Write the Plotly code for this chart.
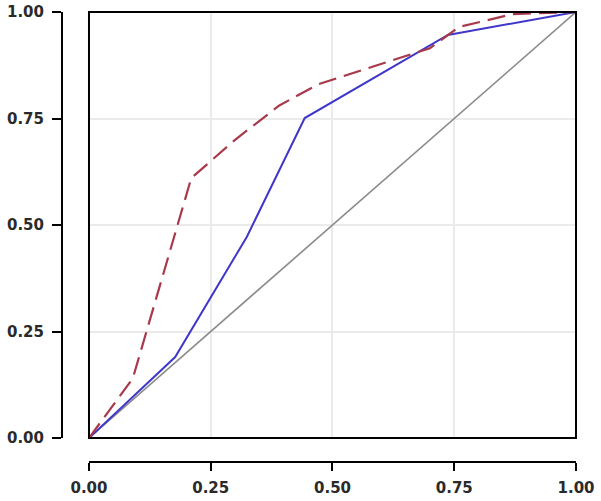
import plotly.graph_objects as go

# ---- data ----
fpr_a = [0.0, 0.09, 0.21, 0.30, 0.39, 0.47, 0.70, 0.76, 0.87, 1.0]
tpr_a = [0.0, 0.14, 0.61, 0.70, 0.78, 0.83, 0.915, 0.965, 0.995, 1.0]

fpr_b = [0.0, 0.177, 0.324, 0.443, 0.737, 1.0]
tpr_b = [0.0, 0.19, 0.472, 0.751, 0.946, 1.0]

chance = [0.0, 1.0]
tick_vals = [0.0, 0.25, 0.5, 0.75, 1.0]
tick_text = ["0.00", "0.25", "0.50", "0.75", "1.00"]

RED = "#a8394b"
BLUE = "#3f37c9"
GREY = "#8a8a8a"

fig = go.Figure()
fig.add_trace(go.Scatter(x=chance, y=chance, mode="lines",
                         line=dict(color=GREY, width=1.6), showlegend=False))
fig.add_trace(go.Scatter(x=fpr_b, y=tpr_b, mode="lines",
                         line=dict(color=BLUE, width=2), showlegend=False))
fig.add_trace(go.Scatter(x=fpr_a, y=tpr_a, mode="lines",
                         line=dict(color=RED, width=2.2, dash="18px,8px"),
                         showlegend=False))

# frame around the plotting area
fig.add_shape(type="rect", xref="x domain", yref="y domain",
              x0=0, x1=1, y0=0, y1=1, line=dict(color="black", width=2))

axis_common = dict(
    range=[0, 1],
    tickvals=tick_vals,
    ticktext=tick_text,
    showline=True, linecolor="black", linewidth=2,
    ticks="outside", tickcolor="black", tickwidth=2,
    showgrid=True, gridcolor="#ebebeb", gridwidth=1.5,
    zeroline=False,
    tickfont=dict(family="DejaVu Sans", size=15, color="#2a2a2a", weight="bold"),
    anchor="free", position=0,
    automargin=False,
)

fig.update_layout(
    width=601, height=501,
    margin=dict(l=62, r=25, t=12, b=39),
    paper_bgcolor="white", plot_bgcolor="white",
    xaxis=dict(**axis_common, domain=[0.0525, 1], ticklen=8, ticklabelstandoff=4),
    yaxis=dict(**axis_common, domain=[0.0533, 1], ticklen=9, ticklabelstandoff=5),
)

# drop the default 8px page margin so the chart sits at the window corner
fig.write_html("out.html", config={"displayModeBar": False},
               post_script="document.body.style.margin='0';")
